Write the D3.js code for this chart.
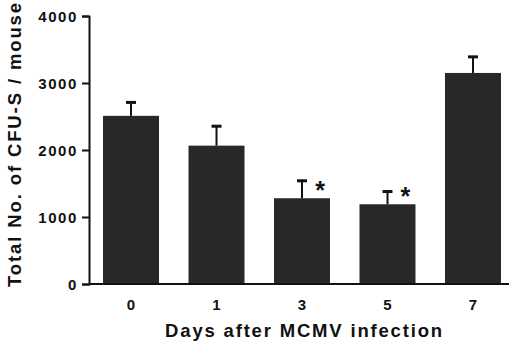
<!DOCTYPE html>
<html><head><meta charset="utf-8">
<script src="https://cdn.jsdelivr.net/npm/d3@7"></script>
<style>body{margin:0;background:#fff}svg{display:block}text{font-family:Arial,"Liberation Sans",Helvetica,sans-serif;font-weight:bold;fill:#111}</style>
</head><body><svg id="c" width="520" height="353"></svg>
<script>
const categories = ["0","1","3","5","7"];
const means = [2510, 2065, 1280, 1190, 3150];
const sems = [215, 305, 275, 205, 255];
const significant = [false, false, true, true, false];
const yTicks = [0, 1000, 2000, 3000, 4000];
const xTitle = "Days after MCMV infection";
const yTitle = "Total No. of CFU-S / mouse";

const svg = d3.select("#c");
const x = d3.scaleBand().domain(categories).range([89, 515]).paddingInner(0.345).paddingOuter(0.164);
const y = d3.scaleLinear().domain([0, 4000]).range([284, 16]);
const ink = "#111";

// bars
svg.append("g").selectAll("rect").data(categories).join("rect")
  .attr("x", d => x(d)).attr("width", x.bandwidth())
  .attr("y", (d,i) => y(means[i])).attr("height", (d,i) => y(0) - y(means[i]))
  .attr("fill", "#282828");

// error bars (upper only)
const eb = svg.append("g").attr("stroke", ink);
categories.forEach((d,i) => {
  const cx = x(d) + x.bandwidth()/2;
  eb.append("line").attr("x1", cx).attr("x2", cx).attr("y1", y(means[i])).attr("y2", y(means[i]+sems[i])).attr("stroke-width", 2);
  eb.append("line").attr("x1", cx-5).attr("x2", cx+5).attr("y1", y(means[i]+sems[i])+1).attr("y2", y(means[i]+sems[i])+1).attr("stroke-width", 3);
  if (significant[i]) {
    svg.append("text").attr("x", cx + 18).attr("y", y(means[i]) + 1)
      .attr("text-anchor", "middle").attr("font-size", 25).text("*");
  }
});

// y axis
const yAxis = svg.append("g").attr("transform", "translate(89,0)")
  .call(d3.axisLeft(y).tickValues(yTicks).tickSize(7).tickPadding(4).tickFormat(d3.format("d")));
yAxis.select(".domain").attr("stroke", ink).attr("stroke-width", 2);
yAxis.selectAll(".tick line").attr("stroke", ink).attr("stroke-width", 2);
yAxis.selectAll(".tick text").attr("font-size", 15).attr("letter-spacing", "1.6px")
  .attr("font-family", "Arial, 'Liberation Sans', sans-serif").attr("font-weight", "bold").attr("fill", ink).attr("dy", "0.36em");

// x axis line
svg.append("line").attr("x1", 89).attr("x2", 509).attr("y1", y(0)).attr("y2", y(0)).attr("stroke", ink).attr("stroke-width", 2);
const xAxis = svg.append("g").attr("transform", `translate(0,${y(0)})`)
  .call(d3.axisBottom(x).tickSize(0).tickPadding(15));
xAxis.select(".domain").remove();
xAxis.selectAll(".tick text").attr("font-size", 15)
  .attr("font-family", "Arial, 'Liberation Sans', sans-serif").attr("font-weight", "bold").attr("fill", ink);

// titles
function fit(sel, len){
  const w = sel.node().getComputedTextLength();
  const n = sel.text().length;
  sel.attr("letter-spacing", ((len - w) / (n - 1)) + "px");
}
const xt = svg.append("text").attr("x", 304.5).attr("y", 337).attr("text-anchor", "middle").attr("font-size", 18.5).text(xTitle);
fit(xt, 277);
const yt = svg.append("text").attr("transform", "translate(20.5,144) rotate(-90)").attr("text-anchor", "middle").attr("font-size", 18.5).text(yTitle);
fit(yt, 284);
</script></body></html>
